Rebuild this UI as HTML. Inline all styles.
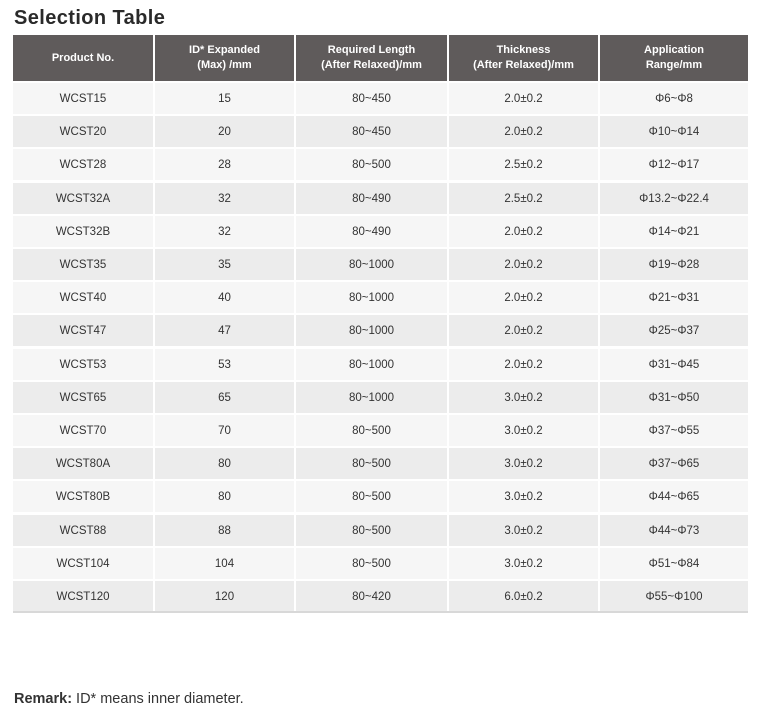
<!DOCTYPE html>
<html><head><meta charset="utf-8"><style>
body{margin:0;width:758px;height:721px;background:#fff;font-family:"Liberation Sans",sans-serif;position:relative;overflow:hidden}
.t{position:absolute;left:14px;top:7px;font-size:20px;font-weight:bold;color:#2a2a2a;letter-spacing:0.4px}
.c{position:absolute;display:flex;align-items:center;justify-content:center;text-align:center;font-size:11.5px;color:#333}
.h{background:#5f5b5b;color:#fff;font-weight:bold;line-height:15px;font-size:11px}
.r{position:absolute;left:13px;width:735px}
.rm{position:absolute;left:14px;top:691px;font-size:14.5px;color:#333}
</style></head><body>
<div class="t">Selection Table</div>
<div id="tb"></div>
<div class="rm"><b>Remark:</b> ID* means inner diameter.</div>
<script>
var cols=[[13,140],[155,139],[296,151],[449,149],[600,148]];
var hd=["Product No.","ID* Expanded<br>(Max) /mm","Required Length<br>(After Relaxed)/mm","Thickness<br>(After Relaxed)/mm","Application<br>Range/mm"];
var d=[["WCST15","15","80~450","2.0±0.2","Φ6~Φ8"],["WCST20","20","80~450","2.0±0.2","Φ10~Φ14"],["WCST28","28","80~500","2.5±0.2","Φ12~Φ17"],["WCST32A","32","80~490","2.5±0.2","Φ13.2~Φ22.4"],["WCST32B","32","80~490","2.0±0.2","Φ14~Φ21"],["WCST35","35","80~1000","2.0±0.2","Φ19~Φ28"],["WCST40","40","80~1000","2.0±0.2","Φ21~Φ31"],["WCST47","47","80~1000","2.0±0.2","Φ25~Φ37"],["WCST53","53","80~1000","2.0±0.2","Φ31~Φ45"],["WCST65","65","80~1000","3.0±0.2","Φ31~Φ50"],["WCST70","70","80~500","3.0±0.2","Φ37~Φ55"],["WCST80A","80","80~500","3.0±0.2","Φ37~Φ65"],["WCST80B","80","80~500","3.0±0.2","Φ44~Φ65"],["WCST88","88","80~500","3.0±0.2","Φ44~Φ73"],["WCST104","104","80~500","3.0±0.2","Φ51~Φ84"],["WCST120","120","80~420","6.0±0.2","Φ55~Φ100"]];
var s="";
cols.forEach(function(c,j){s+='<div class="c h" style="left:'+c[0]+'px;width:'+c[1]+'px;top:35px;height:46px">'+hd[j]+'</div>';});
d.forEach(function(r,i){var top=Math.round(83+i*33.2),h=31;var bg=i%2?'#ececec':'#f6f6f6';
cols.forEach(function(c,j){s+='<div class="c" style="left:'+c[0]+'px;width:'+c[1]+'px;top:'+top+'px;height:'+h+'px;background:'+bg+'">'+r[j]+'</div>';});});
s+='<div class="r" style="top:611px;height:2px;background:#d8d8d8"></div>';
document.getElementById("tb").innerHTML=s;
</script>
</body></html>
